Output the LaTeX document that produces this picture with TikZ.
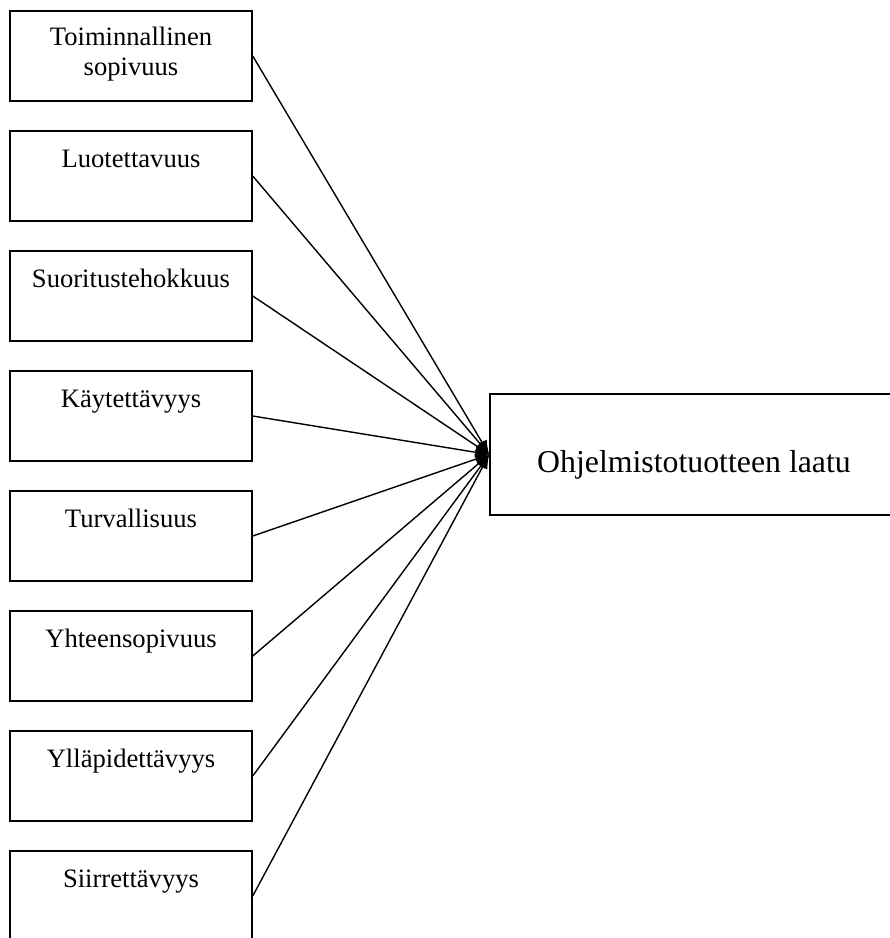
\documentclass[tikz,border=0pt]{standalone}
\usepackage{fontspec}
\setmainfont{Liberation Serif}
\usetikzlibrary{arrows.meta}
\begin{document}
\begin{tikzpicture}[x=1pt,y=-1pt,
  catbox/.style={draw=black,line width=1.5pt,minimum width=242pt,minimum height=90pt,inner sep=0pt},
  lbl/.style={inner sep=0pt,font=\fontsize{26.6}{30}\selectfont,anchor=base},
  bigbox/.style={draw=black,line width=1.5pt,minimum width=408pt,minimum height=121pt,inner sep=0pt},
  conn/.style={line width=1.4pt,-{Latex[length=14pt,width=11pt]}}]
\useasboundingbox (0,0) rectangle (890,938);
\clip (0,0) rectangle (890,938);
\node[bigbox] (big) at (694,454.5) {};
\node[inner sep=0pt,font=\fontsize{31.8}{36}\selectfont,anchor=base] (bigt) at (694,472) {Ohjelmistotuotteen laatu};
\node[catbox] (c1) at (131,56) {};
\node[catbox] (c2) at (131,176) {};
\node[catbox] (c3) at (131,296) {};
\node[catbox] (c4) at (131,416) {};
\node[catbox] (c5) at (131,536) {};
\node[catbox] (c6) at (131,656) {};
\node[catbox] (c7) at (131,776) {};
\node[catbox] (c8) at (131,896) {};
\node[lbl] (t1a) at (131,45) {Toiminnallinen};
\node[lbl] (t1b) at (131,75) {sopivuus};
\node[lbl] (t2) at (131,167) {Luotettavuus};
\node[lbl] (t3) at (131,287) {Suoritustehokkuus};
\node[lbl] (t4) at (131,407) {Käytettävyys};
\node[lbl] (t5) at (131,527) {Turvallisuus};
\node[lbl] (t6) at (131,647) {Yhteensopivuus};
\node[lbl] (t7) at (131,767) {Ylläpidettävyys};
\node[lbl] (t8) at (131,887) {Siirrettävyys};
\foreach \i in {1,...,8} {\draw[conn] (c\i.east) -- (big.west);}
\end{tikzpicture}
\end{document}
